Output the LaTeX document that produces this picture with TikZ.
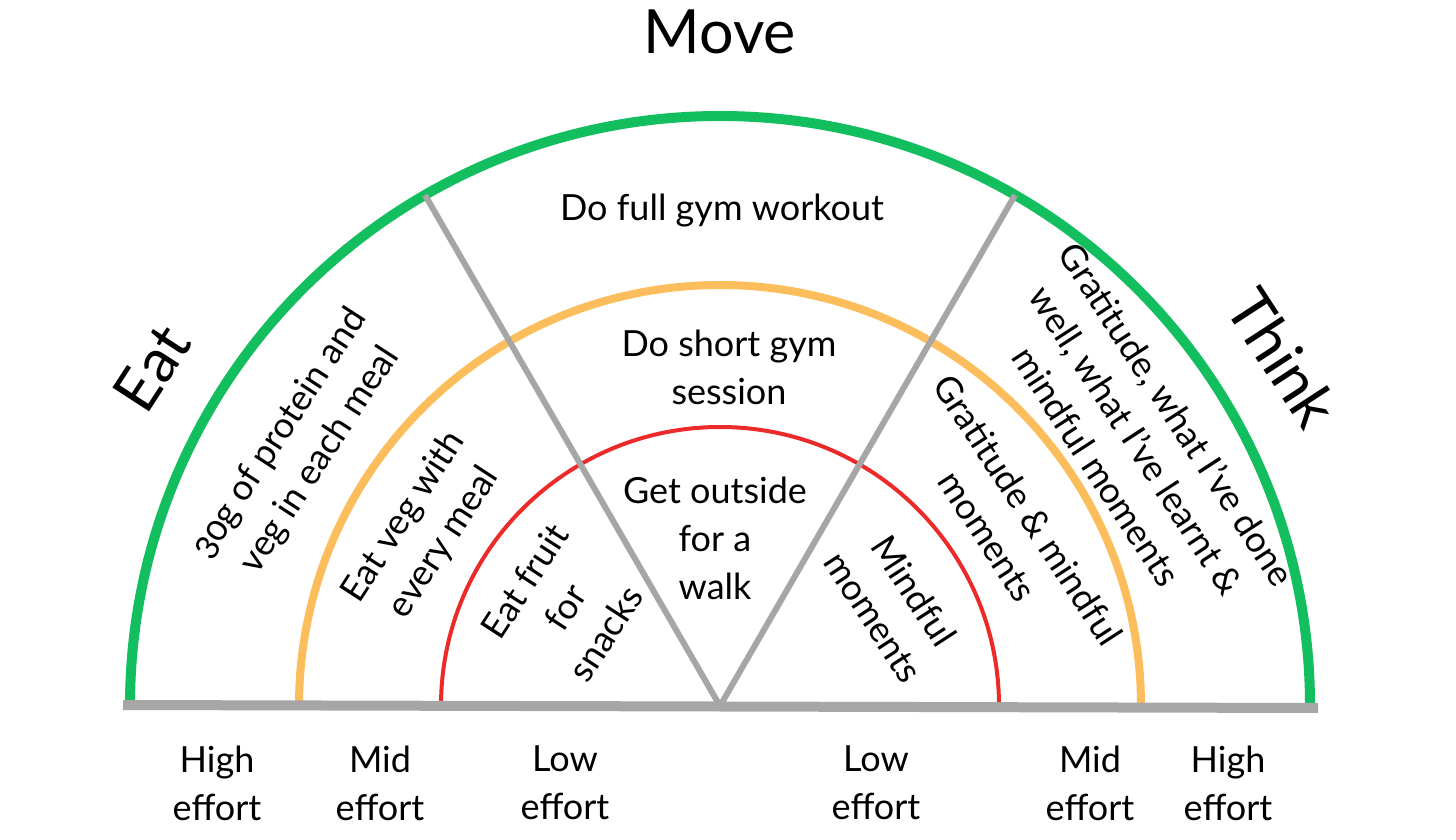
\documentclass[tikz,border=0pt]{standalone}
\usepackage{fontspec}
\setmainfont{Lato}
\usetikzlibrary{calc}
\definecolor{ringgreen}{RGB}{18,190,94}
\definecolor{ringorange}{RGB}{252,190,92}
\definecolor{ringred}{RGB}{236,42,42}
\definecolor{divgray}{RGB}{166,166,166}
\begin{document}
\begin{tikzpicture}[x=1pt,y=1pt,
  big/.style={font=\fontsize{61}{66}\selectfont, inner sep=0pt},
  txt/.style={font=\fontsize{36}{48}\selectfont, align=center, inner sep=0pt},
  ring/.style={line width=#1, line cap=butt},
  divider/.style={draw=divgray, line width=6pt, line cap=butt},
  baseline/.style={draw=divgray, line width=10pt, line cap=butt}]
\useasboundingbox[fill=white] (0,0) rectangle (1456,839);
% centre and ends
\coordinate (O) at (720,133);
\coordinate (bl) at (123,134);
\coordinate (br) at (1318,131);
\coordinate (gS) at ($(O)+(-590,0)$);
\coordinate (oS) at ($(O)+(-421,0)$);
\coordinate (rS) at ($(O)+(-279,0)$);
\coordinate (dl) at ($(O)+(120:590)$);
\coordinate (dr) at ($(O)+(60:590)$);
% rings
\draw[ring=10pt, draw=ringgreen] (gS) arc[start angle=180, end angle=0, radius=590pt];
\draw[ring=8pt, draw=ringorange] (oS) arc[start angle=180, end angle=0, radius=421pt];
\draw[ring=4pt, draw=ringred] (rS) arc[start angle=180, end angle=0, radius=279pt];
% base line and dividers
\draw[baseline] (bl) -- (br);
\draw[divider] (O) -- (dl);
\draw[divider] (O) -- (dr);
% headings
\node[big] (move) at (720,807) {Move};
\node[big, rotate=57] (eat) at (152,471) {Eat};
\node[big, rotate=-57] (think) at (1283,481) {Think};
% move sector
\node[txt] (full) at (722,628) {Do full gym workout};
\node[txt] (short) at (729,472) {Do short gym\\session};
\node[txt] (walk) at (715,301) {Get outside\\for a\\walk};
% eat sector
\node[txt, rotate=57] (protein) at (300,392) {{\addfontfeatures{Numbers=OldStyle}30}g of protein and\\veg in each meal};
\node[txt, rotate=57] (veg) at (424,309) {Eat veg with\\every meal};
\node[txt, rotate=57] (fruit) at (565,232) {Eat fruit\\for\\snacks};
% think sector
\node[txt, rotate=-57] (gratbig) at (1137,399) {Gratitude, what I've done\\well, what I've learnt \&\\mindful moments};
\node[txt, rotate=-57] (gratmid) at (1008,316) {Gratitude \& mindful\\moments};
\node[txt, rotate=-57] (mindful) at (894,235) {Mindful\\moments};
% effort labels
\node[txt] (hl) at (217,56) {High\\effort};
\node[txt] (ml) at (380,56) {Mid\\effort};
\node[txt] (ll) at (565,56) {Low\\effort};
\node[txt] (lr) at (876,56) {Low\\effort};
\node[txt] (mr) at (1090,56) {Mid\\effort};
\node[txt] (hr) at (1228,56) {High\\effort};
\end{tikzpicture}
\end{document}
